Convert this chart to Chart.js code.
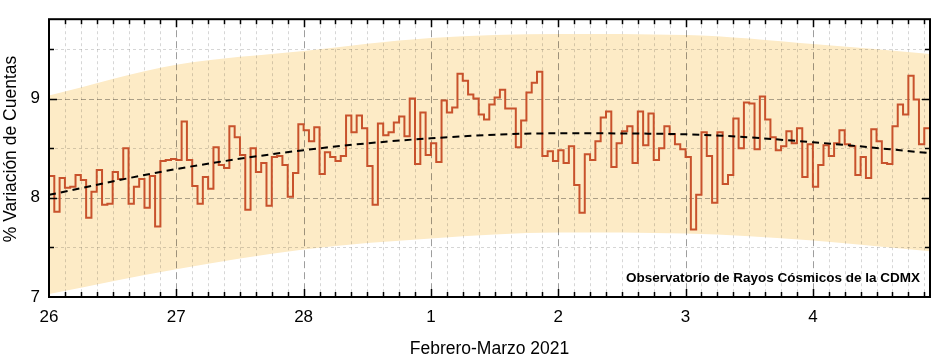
<!DOCTYPE html>
<html>
<head>
<meta charset="utf-8">
<script src="https://cdn.jsdelivr.net/npm/chart.js@4/dist/chart.umd.min.js"></script>
<style>
  html, body { margin: 0; padding: 0; background: #fff; }
</style>
</head>
<body>
<canvas id="grafico" width="938" height="362"></canvas>
<script>
// etiquetas de los dias (eje x en dias desde el 26 de febrero)
const etiquetasDias = ['26', '27', '28', '1', '2', '3', '4'];
const finEje = 6.92;

// variacion horaria de cuentas (%), un valor por hora
const dia26 = [8.22, 7.86, 8.20, 8.10, 8.11, 8.23, 8.18, 7.80, 8.06, 8.28, 7.93, 7.94, 8.26, 8.19, 8.50, 7.94, 8.11, 8.19, 7.90, 8.22, 7.71, 8.37, 8.38, 8.39];
const dia27 = [8.38, 8.77, 8.38, 8.12, 7.94, 8.21, 8.09, 8.51, 8.33, 8.30, 8.72, 8.61, 8.43, 7.88, 8.50, 8.26, 8.35, 7.92, 8.41, 8.42, 8.33, 8.01, 8.25, 8.74];
const dia28 = [8.68, 8.57, 8.71, 8.24, 8.46, 8.41, 8.37, 8.42, 8.83, 8.66, 8.83, 8.70, 8.32, 7.93, 8.75, 8.63, 8.66, 8.76, 8.82, 8.62, 9.00, 8.34, 8.86, 8.43];
const dia1 = [8.55, 8.36, 8.98, 8.86, 8.91, 9.25, 9.18, 9.04, 9.00, 8.84, 8.79, 8.94, 9.01, 9.09, 8.90, 8.90, 8.51, 8.78, 9.06, 9.16, 9.27, 8.42, 8.47, 8.37];
const dia2 = [8.48, 8.35, 8.52, 8.13, 7.85, 8.44, 8.38, 8.57, 8.81, 8.87, 8.31, 8.55, 8.67, 8.72, 8.35, 8.87, 8.53, 8.85, 8.38, 8.50, 8.72, 8.64, 8.54, 8.49];
const dia3 = [8.41, 7.68, 8.03, 8.66, 8.42, 7.95, 8.66, 8.14, 8.23, 8.80, 8.50, 8.96, 8.95, 8.49, 9.02, 8.79, 8.61, 8.48, 8.52, 8.67, 8.55, 8.70, 8.21, 8.54];
const dia4 = [8.11, 8.33, 8.53, 8.42, 8.55, 8.68, 8.54, 8.52, 8.23, 8.41, 8.20, 8.69, 8.57, 8.35, 8.34, 8.72, 8.94, 8.84, 9.23, 8.99, 8.54, 8.70];

const diasTendencia = [0, 1, 2, 3, 4, 5, 6, 6.92];
const tendencia = [8.03, 8.29, 8.48, 8.60, 8.65, 8.64, 8.56, 8.45];
const bandaSup = [9.03, 9.34, 9.48, 9.61, 9.65, 9.64, 9.55, 9.45];
const bandaInf = [7.03, 7.28, 7.48, 7.59, 7.65, 7.64, 7.57, 7.46];

const variacion = [].concat(dia26, dia27, dia28, dia1, dia2, dia3, dia4);
const puntos = variacion.map((v, i) => ({ x: i / 24, y: v }));
puntos.push({ x: variacion.length / 24, y: variacion[variacion.length - 1] });

const aPuntos = (ys) => ys.map((y, i) => ({ x: diasTendencia[i], y: y }));

const fuente = "'Liberation Sans', Arial, sans-serif";

const rejilla = {
  id: 'rejilla',
  afterDatasetDraw(chart, args) {
    if (args.index !== 0) return;
    const { ctx, chartArea: a, scales: { x, y } } = chart;
    ctx.save();
    ctx.lineWidth = 1;
    // verticales cada 3 horas
    for (let k = 1; k / 8 < finEje; k++) {
      const px = Math.round(x.getPixelForValue(k / 8)) + 0.5;
      const mayor = k % 8 === 0;
      ctx.strokeStyle = mayor ? 'rgba(0,0,0,0.38)' : 'rgba(0,0,0,0.16)';
      ctx.setLineDash(mayor ? [7, 4] : [3, 3]);
      ctx.beginPath();
      ctx.moveTo(px, a.top);
      ctx.lineTo(px, a.bottom);
      ctx.stroke();
    }
    // horizontales cada 0.5
    for (let v = 7.5; v < 9.8; v += 0.5) {
      const py = Math.round(y.getPixelForValue(v)) + 0.5;
      const mayor = Number.isInteger(v);
      ctx.strokeStyle = mayor ? 'rgba(0,0,0,0.32)' : 'rgba(0,0,0,0.16)';
      ctx.setLineDash(mayor ? [5, 3] : [3, 3]);
      ctx.beginPath();
      ctx.moveTo(a.left, py);
      ctx.lineTo(a.right, py);
      ctx.stroke();
    }
    ctx.restore();
  },
  afterDraw(chart) {
    const { ctx, chartArea: a, scales: { x, y } } = chart;
    ctx.save();
    ctx.strokeStyle = '#000';
    ctx.setLineDash([]);
    ctx.lineWidth = 1.5;
    for (let k = 1; k / 8 < finEje; k++) {
      const px = Math.round(x.getPixelForValue(k / 8)) + 0.5;
      const largo = k % 8 === 0 ? 8 : 5;
      ctx.beginPath();
      ctx.moveTo(px, a.bottom); ctx.lineTo(px, a.bottom - largo);
      ctx.moveTo(px, a.top); ctx.lineTo(px, a.top + largo);
      ctx.stroke();
    }
    for (let v = 7.5; v < 9.8; v += 0.5) {
      const py = Math.round(y.getPixelForValue(v)) + 0.5;
      const largo = Number.isInteger(v) ? 8 : 5;
      ctx.beginPath();
      ctx.moveTo(a.left, py); ctx.lineTo(a.left + largo, py);
      ctx.moveTo(a.right, py); ctx.lineTo(a.right - largo, py);
      ctx.stroke();
    }
    ctx.lineWidth = 2;
    ctx.strokeRect(a.left, a.top, a.right - a.left, a.bottom - a.top);

    ctx.fillStyle = '#000';
    ctx.font = "bold 13.5px " + fuente;
    ctx.textAlign = 'right';
    ctx.textBaseline = 'middle';
    ctx.fillText('Observatorio de Rayos Cósmicos de la CDMX', a.right - 10, a.bottom - 19);

    // titulo del eje y, algo por encima del centro como en el original
    ctx.translate(11, 149);
    ctx.rotate(-Math.PI / 2);
    ctx.textAlign = 'center';
    ctx.font = "17.5px " + fuente;
    ctx.fillText('% Variación de Cuentas', 0, 0);
    ctx.restore();
  }
};

const ctx = document.getElementById('grafico').getContext('2d');
const grafico = new Chart(ctx, {
  type: 'line',
  data: {
    datasets: [
      {
        label: 'banda superior',
        data: aPuntos(bandaSup),
        borderWidth: 0,
        pointRadius: 0,
        backgroundColor: '#fdebc6',
        fill: '+1',
        cubicInterpolationMode: 'monotone',
        order: 4
      },
      {
        label: 'banda inferior',
        data: aPuntos(bandaInf),
        borderWidth: 0,
        pointRadius: 0,
        fill: false,
        cubicInterpolationMode: 'monotone',
        order: 3
      },
      {
        label: 'variacion',
        data: puntos,
        borderColor: '#c8522c',
        borderWidth: 2,
        pointRadius: 0,
        stepped: true,
        fill: false,
        order: 2
      },
      {
        label: 'tendencia',
        data: aPuntos(tendencia),
        borderColor: '#000',
        borderWidth: 2,
        borderDash: [7, 5],
        pointRadius: 0,
        fill: false,
        cubicInterpolationMode: 'monotone',
        order: 1
      }
    ]
  },
  options: {
    responsive: false,
    animation: false,
    layout: { padding: { top: 17, right: 8, left: 0, bottom: 0 } },
    plugins: {
      legend: { display: false },
      tooltip: { enabled: false }
    },
    scales: {
      x: {
        type: 'linear',
        min: 0,
        max: finEje,
        grid: { display: false, drawTicks: false },
        border: { display: false },
        ticks: {
          stepSize: 1,
          includeBounds: false,
          autoSkip: false,
          maxRotation: 0,
          padding: 10,
          color: '#000',
          font: { size: 17, family: fuente },
          callback: (v) => Number.isInteger(v) ? etiquetasDias[v] : ''
        },
        title: {
          display: true,
          text: 'Febrero-Marzo 2021',
          color: '#000',
          font: { size: 17.5, family: fuente },
          padding: { top: 2, bottom: 2 }
        },
        afterFit: (s) => { s.height = 65; }
      },
      y: {
        min: 7,
        max: 9.8,
        grid: { display: false, drawTicks: false },
        border: { display: false },
        ticks: {
          stepSize: 1,
          includeBounds: false,
          padding: 9,
          color: '#000',
          font: { size: 17, family: fuente },
          callback: (v) => Number.isInteger(v) ? String(v) : ''
        },
        title: { display: false },
        afterFit: (s) => { s.width = 49; }
      }
    }
  },
  plugins: [rejilla]
});
</script>
</body>
</html>
